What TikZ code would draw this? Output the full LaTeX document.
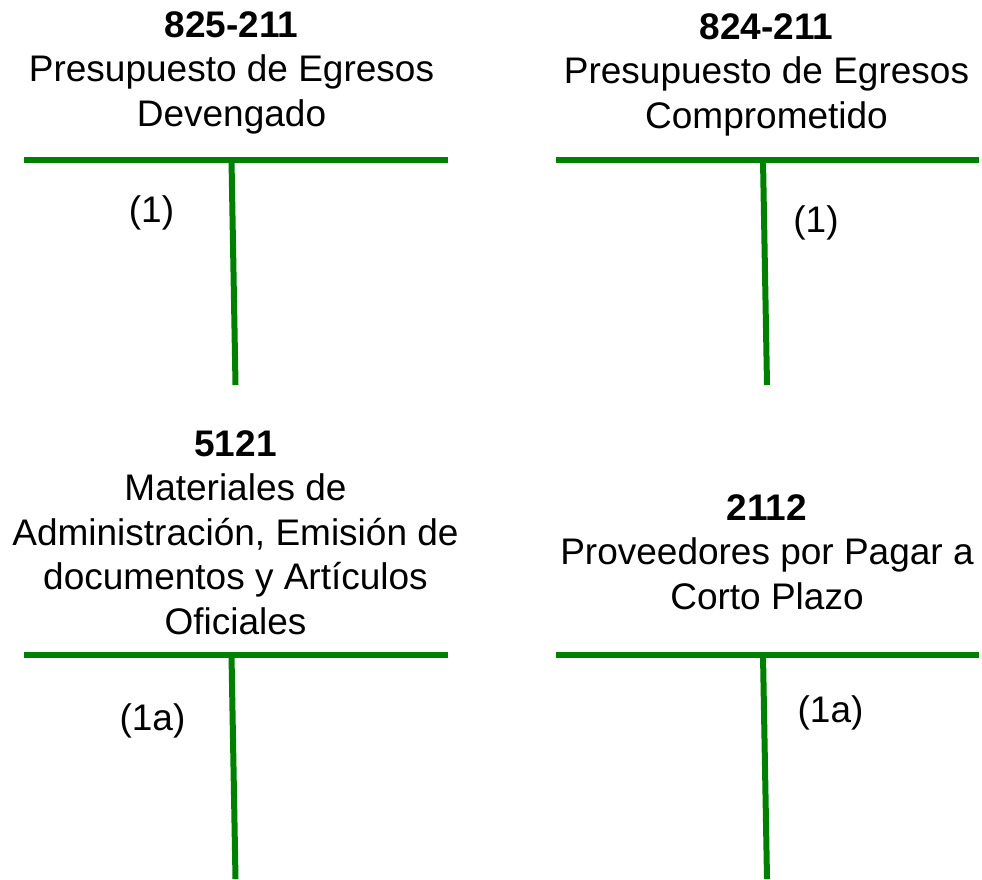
\documentclass[tikz,border=0pt]{standalone}
\usepackage{fontspec}
\setmainfont{Liberation Sans}
\definecolor{tgreen}{RGB}{0,128,0}
\begin{document}
\begin{tikzpicture}[x=1pt,y=-1pt,
  tline/.style={draw=tgreen,line width=6pt},
  title/.style={align=center,anchor=base,inner sep=0pt,font=\fontsize{37}{44.5}\selectfont},
  entry/.style={anchor=base,inner sep=0pt,font=\fontsize{37}{44.5}\selectfont}]
\useasboundingbox (0,0) rectangle (982,879);
% account 825-211
\node[title] (t1) at (231.5,126) {\textbf{825-211}\\Presupuesto de Egresos\\Devengado};
\coordinate (a1l) at (24,159.5);
\coordinate (a1r) at (448,159.5);
\coordinate (a1t) at (231.5,159.5);
\coordinate (a1b) at (235.5,385);
\draw[tline] (a1l) -- (a1r);
\draw[tline] (a1t) -- (a1b);
\node[entry] (e1) at (151.5,222) {(1)};
% account 824-211
\node[title] (t2) at (766.5,128) {\textbf{824-211}\\Presupuesto de Egresos\\Comprometido};
\coordinate (a2l) at (556,160);
\coordinate (a2r) at (979,160);
\coordinate (a2t) at (763,160);
\coordinate (a2b) at (767,385);
\draw[tline] (a2l) -- (a2r);
\draw[tline] (a2t) -- (a2b);
\node[entry] (e2) at (816,232) {(1)};
% account 5121
\node[title] (t3) at (235.5,634) {\textbf{5121}\\Materiales de\\Administración, Emisión de\\documentos y Artículos\\Oficiales};
\coordinate (a3l) at (24,655);
\coordinate (a3r) at (448,655);
\coordinate (a3t) at (231.5,655);
\coordinate (a3b) at (235.5,879);
\draw[tline] (a3l) -- (a3r);
\draw[tline] (a3t) -- (a3b);
\node[entry] (e3) at (152.5,730) {(1a)};
% account 2112
\node[title] (t4) at (767,609) {\textbf{2112}\\Proveedores por Pagar a\\Corto Plazo};
\coordinate (a4l) at (556,655);
\coordinate (a4r) at (979,655);
\coordinate (a4t) at (763,655);
\coordinate (a4b) at (767,879);
\draw[tline] (a4l) -- (a4r);
\draw[tline] (a4t) -- (a4b);
\node[entry] (e4) at (830.5,722) {(1a)};
\end{tikzpicture}
\end{document}
